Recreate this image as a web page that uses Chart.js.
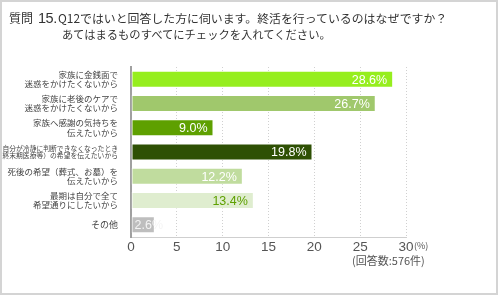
<!DOCTYPE html>
<html>
<head>
<meta charset="utf-8">
<script src="https://cdn.jsdelivr.net/npm/chart.js@4"></script>
<style>
  body { margin: 0; background: #fff; }
  #wrap { position: relative; width: 500px; height: 296px; overflow: hidden; }
  #frame { position: absolute; left: 0; top: 0; width: 498px; height: 295px; box-sizing: border-box; border: 2px solid #d4d4d4; pointer-events: none; }
  .t { position: absolute; white-space: nowrap; color: #333; font-family: "Noto Sans CJK JP", sans-serif; line-height: 1; }
</style>
</head>
<body>
<div id="wrap">
  <canvas id="myChart" width="500" height="296"></canvas>
  <div class="t" style="left:9px; top:12px; font-size:12px;">質問</div>
  <div class="t" style="left:38px; top:11px; font-size:14.5px; font-family:'Liberation Sans',sans-serif; letter-spacing:-0.5px;">15.</div>
  <div class="t" style="left:58px; top:12px; font-size:11.9px;">Q12ではいと回答した方に伺います。終活を行っているのはなぜですか？</div>
  <div class="t" style="left:62px; top:29px; font-size:11.3px;">あてはまるものすべてにチェックを入れてください。</div>
  <div class="t" style="left:414px; top:241px; font-size:9px; color:#555;">(%)</div>
  <div class="t" style="left:352px; top:255px; font-size:11px; color:#555;">(回答数:576件)</div>
  <div id="frame"></div>
</div>
<script>
  // 質問15 の回答データ
  const labels = [
    ['家族に金銭面で', '迷惑をかけたくないから'],
    ['家族に老後のケアで', '迷惑をかけたくないから'],
    ['家族へ感謝の気持ちを', '伝えたいから'],
    ['自分が冷静に判断できなくなったとき', '（終末期医療等）の希望を伝えたいから'],
    ['死後の希望（葬式、お墓）を', '伝えたいから'],
    ['最期は自分で全て', '希望通りにしたいから'],
    'その他'
  ];
  const values = [28.6, 26.7, 9.0, 19.8, 12.2, 13.4, 2.6];
  const barColors = ['#96ee1e', '#a0c86c', '#5ea000', '#2e5004', '#c0dc9e', '#dfedcf', '#bebebe'];
  const labelColors = ['#fff', '#fff', '#fff', '#fff', '#fff', '#5ea000', '#f4f4f4'];
  const xTicks = [0, 5, 10, 15, 20, 25, 30];

  // バー上の数値ラベル
  const valueLabels = {
    id: 'valueLabels',
    afterDatasetsDraw(chart) {
      const ctx = chart.ctx;
      const meta = chart.getDatasetMeta(0);
      ctx.save();
      ctx.font = '12.5px "Liberation Sans", Arial, sans-serif';
      ctx.textBaseline = 'middle';
      meta.data.forEach(function (bar, i) {
        const text = values[i].toFixed(1) + '%';
        ctx.fillStyle = labelColors[i];
        if (bar.x - bar.base > 40) {
          ctx.textAlign = 'right';
          ctx.fillText(text, bar.x - 6, bar.y + 1);
        } else {
          ctx.textAlign = 'left';
          ctx.fillText(text, bar.base + 3, bar.y + 1);
        }
      });
      ctx.restore();
    }
  };

  const data = {
    labels: labels,
    datasets: [{
      data: values,
      backgroundColor: barColors,
      borderColor: 'rgba(255,255,255,0.45)',
      borderWidth: 1,
      borderSkipped: false,
      categoryPercentage: 1,
      barPercentage: 0.7
    }]
  };

  const config = {
    type: 'bar',
    data: data,
    options: {
      indexAxis: 'y',
      responsive: false,
      animation: false,
      layout: {
        padding: { top: 67, right: 94, left: 0, bottom: 0 }
      },
      plugins: {
        legend: { display: false },
        tooltip: { enabled: false }
      },
      scales: {
        x: {
          min: 0,
          max: 30,
          afterFit: function (scale) { scale.height = 59; },
          afterBuildTicks: function (scale) {
            scale.ticks = xTicks.map(function (v) { return { value: v }; });
          },
          ticks: {
            color: '#555',
            padding: 2,
            font: { family: '"Liberation Sans", Arial, sans-serif', size: 13.5 }
          },
          grid: {
            drawTicks: false,
            color: function (c) { return c.tick && c.tick.value === 0 ? 'rgba(0,0,0,0)' : '#d0d0d0'; }
          },
          border: { color: '#cfcfcf', width: 1, dash: [1, 2] }
        },
        y: {
          afterFit: function (scale) { scale.width = 131; },
          ticks: {
            color: '#444',
            padding: 5,
            font: function (c) {
              return {
                family: '"Noto Sans CJK JP", sans-serif',
                size: c.index === 3 ? 6.8 : (c.index === 6 ? 9 : 8.5),
                lineHeight: 1.1
              };
            }
          },
          grid: { display: false },
          border: { color: '#a0a0a0', width: 2 }
        }
      }
    },
    plugins: [valueLabels]
  };

  const myChart = new Chart(
    document.getElementById('myChart'),
    config
  );
</script>
</body>
</html>
